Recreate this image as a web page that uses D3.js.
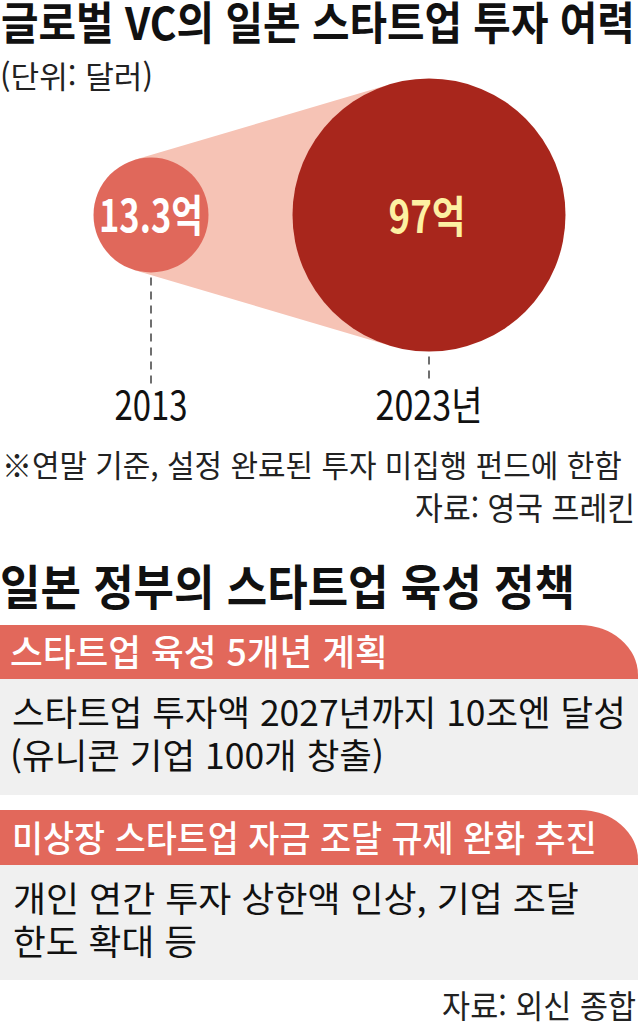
<!DOCTYPE html>
<html lang="ko">
<head>
<meta charset="utf-8">
<script src="https://cdn.jsdelivr.net/npm/d3@7"></script>
<style>
  html, body { margin: 0; padding: 0; background: #fff; }
  svg { display: block; font-family: "Noto Sans CJK KR", "Noto Sans", sans-serif; }
</style>
</head>
<body>
<svg id="chart" width="638" height="1027"></svg>
<script>
// ---- data ----
const years = ["2013", "2023년"];
const values = [13.3, 97];
const valueLabels = ["13.3억", "97억"];
const titleText = "글로벌 VC의 일본 스타트업 투자 여력";
const unitText = "(단위: 달러)";
const noteText = "※연말 기준, 설정 완료된 투자 미집행 펀드에 한함";
const sourceText1 = "자료: 영국 프레킨";
const sectionTitle = "일본 정부의 스타트업 육성 정책";
const policyHeads = ["스타트업 육성 5개년 계획", "미상장 스타트업 자금 조달 규제 완화 추진"];
const policyLines = [
  ["스타트업 투자액 2027년까지 10조엔 달성", "(유니콘 기업 100개 창출)"],
  ["개인 연간 투자 상한액 인상, 기업 조달", "한도 확대 등"]
];
const sourceText2 = "자료: 외신 종합";

// ---- layout ----
const W = 638;
const svg = d3.select("#chart");
const colSmall = "#e0685b", colBig = "#a8261c", colBand = "#f6c3b5";
const colHead = "#e2685b", colBox = "#f0f0f0";

// text fitted to a measured width by horizontal scaling (condensed look)
function txt(s, o) {
  const g = svg.append("g");
  const t = g.append("text")
    .attr("x", 0).attr("y", 0)
    .attr("font-size", o.size)
    .attr("font-weight", o.weight || 400)
    .attr("fill", o.fill || "#111")
    .attr("text-anchor", o.anchor || "start")
    .text(s);
  let sx = 1;
  if (o.len) {
    const w = t.node().getComputedTextLength();
    if (w > 0) sx = o.len / w;
  }
  g.attr("transform", `translate(${o.x},${o.y}) scale(${sx},1)`);
  return t;
}

// title & unit
txt(titleText, {x: 1, y: 40, size: 45, weight: 700, len: 634});
txt(unitText, {x: 0, y: 88, size: 31, len: 153, fill: "#222"});

// scales
const x = d3.scalePoint().domain(years).range([151, 429]);
const r = d3.scaleLinear().domain([values[0], values[1]]).range([57.5, 136.5]);
const cy = 215;

const nodes = years.map((y, i) => ({year: y, value: values[i], label: valueLabels[i], cx: x(y), r: r(values[i])}));

// tangent band
const a = nodes[0], b = nodes[1];
const d = b.cx - a.cx;
const nx = -(b.r - a.r) / d;
const ny = Math.sqrt(1 - nx * nx);
const band = [
  [a.cx + a.r * nx, cy - a.r * ny],
  [b.cx + b.r * nx, cy - b.r * ny],
  [b.cx + b.r * nx, cy + b.r * ny],
  [a.cx + a.r * nx, cy + a.r * ny]
];
svg.append("path").attr("d", d3.line()(band) + "Z").attr("fill", colBand);

// dashed leader lines
svg.selectAll("line.lead").data(nodes).join("line")
  .attr("class", "lead")
  .attr("x1", d => d.cx).attr("x2", d => d.cx)
  .attr("y1", d => cy + d.r + 5).attr("y2", 384)
  .attr("stroke", "#333").attr("stroke-width", 1.4)
  .attr("stroke-dasharray", "8,6");

// circles
svg.selectAll("circle.bub").data(nodes).join("circle")
  .attr("class", "bub")
  .attr("cx", d => d.cx).attr("cy", cy).attr("r", d => d.r)
  .attr("fill", (d, i) => i === 0 ? colSmall : colBig);

// value labels
txt(nodes[0].label, {x: nodes[0].cx, y: 232, size: 44, weight: 700, anchor: "middle", fill: "#fff", len: 104});
txt(nodes[1].label, {x: nodes[1].cx - 2, y: 233, size: 44, weight: 700, anchor: "middle", fill: "#fdf0a2", len: 77});

// year labels
txt(nodes[0].year, {x: nodes[0].cx, y: 420, size: 40, anchor: "middle", len: 73});
txt(nodes[1].year, {x: nodes[1].cx, y: 420, size: 40, anchor: "middle", len: 107});

// note & source
txt(noteText, {x: 2, y: 477, size: 31, len: 620, fill: "#222"});
txt(sourceText1, {x: 635, y: 520, size: 32, anchor: "end", len: 220, fill: "#222"});

// section title
txt(sectionTitle, {x: 0, y: 605, size: 48, weight: 700, len: 575});

// policy boxes
const boxes = [
  {head: policyHeads[0], lines: policyLines[0], top: 625, headH: 54, boxH: 116, headLen: 378, lineLens: [614, 374], headX: 10, lineX: [12, 10]},
  {head: policyHeads[1], lines: policyLines[1], top: 810, headH: 55, boxH: 115, headLen: 585, lineLens: [566, 184], headX: 12, lineX: [13, 13]}
];
const rx = 58, ry = 50;
boxes.forEach(bx => {
  const t = bx.top, hb = bx.top + bx.headH;
  svg.append("rect").attr("x", 0).attr("y", hb).attr("width", W).attr("height", bx.boxH).attr("fill", colBox);
  svg.append("path")
    .attr("d", `M0,${t} H${W - rx} A${rx},${ry} 0 0 1 ${W},${t + ry} V${hb} H0 Z`)
    .attr("fill", colHead);
  txt(bx.head, {x: bx.headX, y: hb - 13, size: 36, weight: 500, fill: "#fff", len: bx.headLen});
  bx.lines.forEach((ln, i) => {
    txt(ln, {x: bx.lineX[i], y: hb + 47 + i * 43, size: 35, fill: "#111", len: bx.lineLens[i]});
  });
});

// source 2
txt(sourceText2, {x: 636, y: 1018, size: 32, anchor: "end", len: 194, fill: "#222"});
</script>
</body>
</html>
